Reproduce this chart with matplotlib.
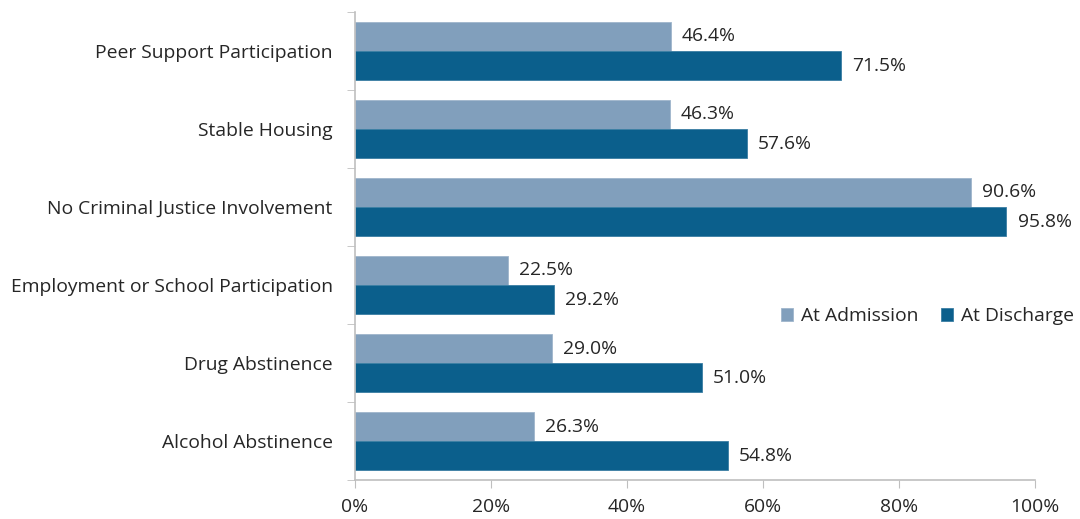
import matplotlib.pyplot as plt
import numpy as np

# outcome measures, top to bottom
categories = ["Peer Support Participation", "Stable Housing", "No Criminal Justice Involvement",
              "Employment or School Participation", "Drug Abstinence", "Alcohol Abstinence"]
admission = [46.4, 46.3, 90.6, 22.5, 29.0, 26.3]
discharge = [71.5, 57.6, 95.8, 29.2, 51.0, 54.8]
xticks = [0, 20, 40, 60, 80, 100]

light = "#819fbc"
dark = "#0b5f8c"
grey = "#bfbfbf"
txt = "#262626"
fs = 13.9

plt.rcParams['font.family'] = ['Open Sans', 'DejaVu Sans']

fig = plt.figure(figsize=(10.8, 5.19), dpi=100)
ax = fig.add_axes([0.3287, 0.0751, 0.6296, 0.9018])

n = len(categories)
y = np.arange(n)[::-1]
h = 0.372
b1 = ax.barh(y + h / 2, admission, height=h, color=light, edgecolor="#9fb6cc", linewidth=0.6, label="At Admission")
b2 = ax.barh(y - h / 2, discharge, height=h, color=dark, edgecolor="#3a7ea3", linewidth=0.6, label="At Discharge")

for bars, vals in ((b1, admission), (b2, discharge)):
    for bar, v in zip(bars, vals):
        ax.annotate(f"{v:.1f}%", (v, bar.get_y() + bar.get_height() / 2),
                    xytext=(8, 0), textcoords="offset points", va="center", ha="left",
                    fontsize=fs, color=txt)

ax.set_xlim(0, 100)
ax.set_ylim(-0.5, n - 0.5)
ax.set_xticks(xticks)
ax.set_xticklabels([f"{t}%" for t in xticks], fontsize=fs, color=txt)
ax.set_yticks(y)
ax.set_yticklabels(categories, fontsize=fs, color=txt)
ax.set_yticks(np.arange(n + 1) - 0.5, minor=True)
ax.tick_params(axis="y", which="major", length=0, pad=16)
ax.tick_params(axis="y", which="minor", length=6, color=grey, direction="out")
ax.tick_params(axis="x", length=6, color=grey, direction="out", pad=7)

for s in ("top", "right"):
    ax.spines[s].set_visible(False)
for s in ("left", "bottom"):
    ax.spines[s].set_color(grey)
    ax.spines[s].set_linewidth(1.2)

ax.legend(loc="center left", bbox_to_anchor=(0.627, 0.35), ncol=2, frameon=False,
          fontsize=fs, handlelength=0.6, handleheight=0.6, columnspacing=1.2,
          handletextpad=0.4, labelcolor=txt, borderaxespad=0, borderpad=0)

fig.savefig("out.png", dpi=100)
